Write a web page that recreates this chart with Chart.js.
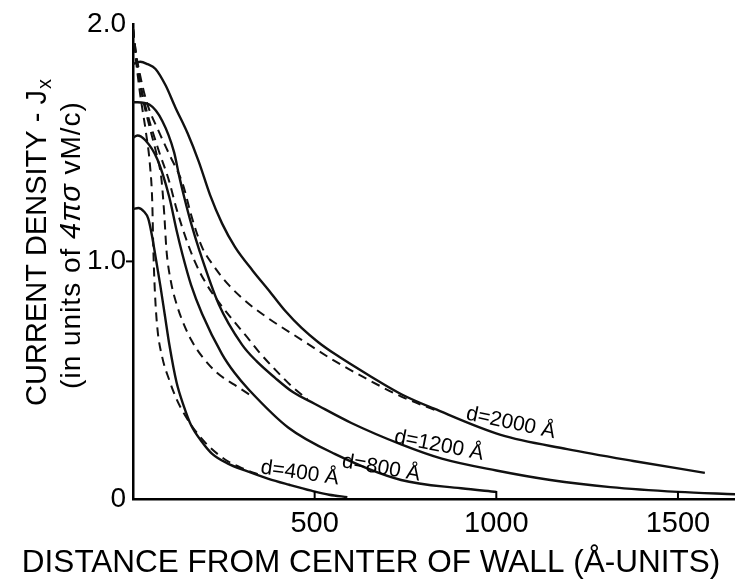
<!DOCTYPE html>
<html><head><meta charset="utf-8">
<script src="https://cdn.jsdelivr.net/npm/chart.js@4"></script>
<style>html,body{margin:0;padding:0;background:#fff}#wrap{width:735px;height:580px}</style>
</head><body><div id="wrap"><canvas id="c" width="735" height="580"></canvas></div>
<script>
// ---- tick values / labels ----
const xTickValues = [500, 1000, 1500];
const yTickValues = [0, 1, 2];
const yTickLabels = ['0', '1.0', '2.0'];
const xMax = 1657;

// ---- solid curves ----
const d2000X = [0, 20, 40, 62, 90, 116, 150, 181, 212, 245, 281, 330, 373, 420, 464, 510, 556, 650, 740, 829, 1012, 1195, 1377, 1574];
const d2000Y = [1.83, 1.84, 1.83, 1.81, 1.74, 1.65, 1.54, 1.42, 1.28, 1.16, 1.06, 0.96, 0.88, 0.79, 0.72, 0.66, 0.61, 0.52, 0.44, 0.38, 0.27, 0.21, 0.16, 0.11];
const d1200X = [0, 12, 45, 81, 113, 127, 141, 160, 182, 236, 300, 340, 391, 440, 501, 601, 738, 850, 1000, 1149, 1314, 1500, 1657];
const d1200Y = [1.67, 1.67, 1.66, 1.59, 1.46, 1.36, 1.27, 1.16, 1.05, 0.82, 0.65, 0.58, 0.51, 0.45, 0.40, 0.32, 0.23, 0.17, 0.12, 0.08, 0.05, 0.03, 0.02];
const d800X = [0, 12, 34, 67, 100, 120, 136, 160, 190, 245, 280, 319, 428, 555, 738, 903, 1000];
const d800Y = [1.52, 1.53, 1.51, 1.43, 1.27, 1.13, 1.03, 0.90, 0.78, 0.61, 0.53, 0.46, 0.30, 0.19, 0.08, 0.045, 0.03];
const d400X = [0, 15, 30, 42, 52, 62, 75, 88, 100, 120, 140, 160, 190, 218, 260, 308, 373, 430, 491, 540, 590];
const d400Y = [1.22, 1.225, 1.21, 1.18, 1.11, 1.02, 0.90, 0.77, 0.65, 0.49, 0.39, 0.31, 0.24, 0.19, 0.15, 0.12, 0.085, 0.06, 0.035, 0.018, 0.008];

// ---- dashed curves ----
const d2000DX = [0, 8, 20, 40, 70, 100, 136, 163, 190, 220, 264, 320, 373, 464, 556, 650, 740, 830];
const d2000DY = [1.98, 1.88, 1.78, 1.66, 1.55, 1.45, 1.33, 1.18, 1.06, 0.985, 0.90, 0.82, 0.76, 0.67, 0.58, 0.50, 0.43, 0.375];
const d1200DX = [0, 8, 20, 40, 70, 99, 120, 145, 170, 200, 240, 282, 320, 346, 391, 440, 480];
const d1200DY = [1.98, 1.86, 1.75, 1.62, 1.47, 1.34, 1.22, 1.10, 1.00, 0.91, 0.82, 0.74, 0.67, 0.62, 0.545, 0.47, 0.42];
const d800DX = [0, 10, 25, 45, 65, 78, 86, 92, 105, 120, 136, 160, 190, 232, 280, 330];
const d800DY = [1.98, 1.85, 1.70, 1.57, 1.45, 1.35, 1.20, 1.05, 0.91, 0.82, 0.75, 0.67, 0.60, 0.53, 0.48, 0.43];
const d400DX = [0, 8, 20, 35, 47, 53, 56, 60, 67, 80, 100, 120, 144, 175, 210, 260, 308, 350];
const d400DY = [1.98, 1.85, 1.70, 1.55, 1.40, 1.25, 1.05, 0.88, 0.72, 0.60, 0.50, 0.42, 0.35, 0.28, 0.22, 0.16, 0.125, 0.10];

const curveNames = ['d=2000 Å', 'd=1200 Å', 'd=800 Å', 'd=400 Å'];

const FONT = '"Liberation Sans", Arial, sans-serif';
Chart.defaults.font.family = FONT;
Chart.defaults.color = '#000';

function pts(xs, ys) { return xs.map((x, i) => ({ x: x, y: ys[i] })); }
function solid(label, xs, ys) {
  return { label, data: pts(xs, ys), borderColor: '#111', borderWidth: 2.4, pointRadius: 0,
           fill: false, cubicInterpolationMode: 'monotone' };
}
function dashed(label, xs, ys) {
  return { label, data: pts(xs, ys), borderColor: '#111', borderWidth: 2, borderDash: [9, 6],
           pointRadius: 0, fill: false, cubicInterpolationMode: 'monotone' };
}

const deco = {
  id: 'deco',
  afterDraw(chart, args, opts) {
    const { ctx, scales: { x, y } } = chart;
    ctx.save();
    ctx.strokeStyle = '#000';
    ctx.lineWidth = 2;
    xTickValues.forEach(v => {
      const px = x.getPixelForValue(v);
      ctx.beginPath(); ctx.moveTo(px, y.bottom); ctx.lineTo(px, y.bottom - 8); ctx.stroke();
    });
    const py = y.getPixelForValue(1);
    ctx.beginPath(); ctx.moveTo(x.left, py); ctx.lineTo(x.left - 7, py); ctx.stroke();

    ctx.fillStyle = '#000';
    ctx.textAlign = 'center'; ctx.textBaseline = 'middle';
    ctx.font = '21px ' + FONT;
    opts.labels.forEach(l => {
      ctx.save();
      ctx.translate(x.getPixelForValue(l.x), y.getPixelForValue(l.y));
      ctx.rotate(l.angle * Math.PI / 180);
      ctx.fillText(l.text, 0, 0);
      ctx.restore();
    });

    ctx.font = '31.5px ' + FONT;
    ctx.fillText('DISTANCE FROM CENTER OF WALL (Å-UNITS)', 371, 563);

    ctx.save();
    ctx.translate(38, 243); ctx.rotate(-Math.PI / 2);
    ctx.textAlign = 'left';
    const f1 = '29px ' + FONT, fs = '20px ' + FONT;
    const t1 = 'CURRENT DENSITY - J';
    ctx.font = f1; const w1 = ctx.measureText(t1).width;
    ctx.font = fs; const ws = ctx.measureText('x').width;
    let sx = -(w1 + ws) / 2;
    ctx.font = f1; ctx.fillText(t1, sx, 0);
    ctx.font = fs; ctx.fillText('x', sx + w1 + 1, 7);
    ctx.restore();

    ctx.save();
    ctx.translate(72, 245); ctx.rotate(-Math.PI / 2);
    ctx.textAlign = 'left';
    try { ctx.letterSpacing = '1px'; } catch (e) {}
    const parts = [['(in units of ', '28px ' + FONT], ['4πσ', 'italic 29px ' + FONT], [' vM/c)', '28px ' + FONT]];
    let tot = 0;
    parts.forEach(p => { ctx.font = p[1]; tot += ctx.measureText(p[0]).width; });
    let cx = -tot / 2;
    parts.forEach(p => { ctx.font = p[1]; ctx.fillText(p[0], cx, 0); cx += ctx.measureText(p[0]).width; });
    ctx.restore();

    ctx.restore();
  }
};

new Chart(document.getElementById('c'), {
  type: 'line',
  data: {
    datasets: [
      solid(curveNames[0], d2000X, d2000Y),
      solid(curveNames[1], d1200X, d1200Y),
      solid(curveNames[2], d800X, d800Y),
      solid(curveNames[3], d400X, d400Y),
      dashed(curveNames[0] + ' approx', d2000DX, d2000DY),
      dashed(curveNames[1] + ' approx', d1200DX, d1200DY),
      dashed(curveNames[2] + ' approx', d800DX, d800DY),
      dashed(curveNames[3] + ' approx', d400DX, d400DY)
    ]
  },
  options: {
    responsive: false,
    animation: false,
    layout: { padding: { top: 22, right: 0, left: 0, bottom: 0 } },
    plugins: {
      legend: { display: false },
      tooltip: { enabled: false },
      deco: {
        labels: [
          { text: curveNames[0], x: 1040, y: 0.32, angle: 12 },
          { text: curveNames[1], x: 842, y: 0.225, angle: 11 },
          { text: curveNames[2], x: 683, y: 0.13, angle: 10 },
          { text: curveNames[3], x: 459, y: 0.109, angle: 8 }
        ]
      }
    },
    scales: {
      x: {
        type: 'linear', min: 0, max: xMax,
        afterFit(s) { s.height = 81; },
        afterBuildTicks(s) { s.ticks = xTickValues.map(v => ({ value: v })); },
        grid: { display: false, drawTicks: false },
        border: { display: true, color: '#000', width: 2.5 },
        ticks: { autoSkip: false, maxRotation: 0, padding: 8, color: '#000',
                 font: { size: 29, family: FONT }, callback: v => String(v) }
      },
      y: {
        type: 'linear', min: 0, max: 2,
        afterFit(s) { s.width = 133; },
        afterBuildTicks(s) { s.ticks = yTickValues.map(v => ({ value: v })); },
        grid: { display: false, drawTicks: false },
        border: { display: true, color: '#000', width: 2.5 },
        ticks: { autoSkip: false, padding: 7, color: '#000',
                 font: { size: 28, family: FONT },
                 callback: v => yTickLabels[yTickValues.indexOf(v)] }
      }
    }
  },
  plugins: [deco]
});
</script>
</body></html>
